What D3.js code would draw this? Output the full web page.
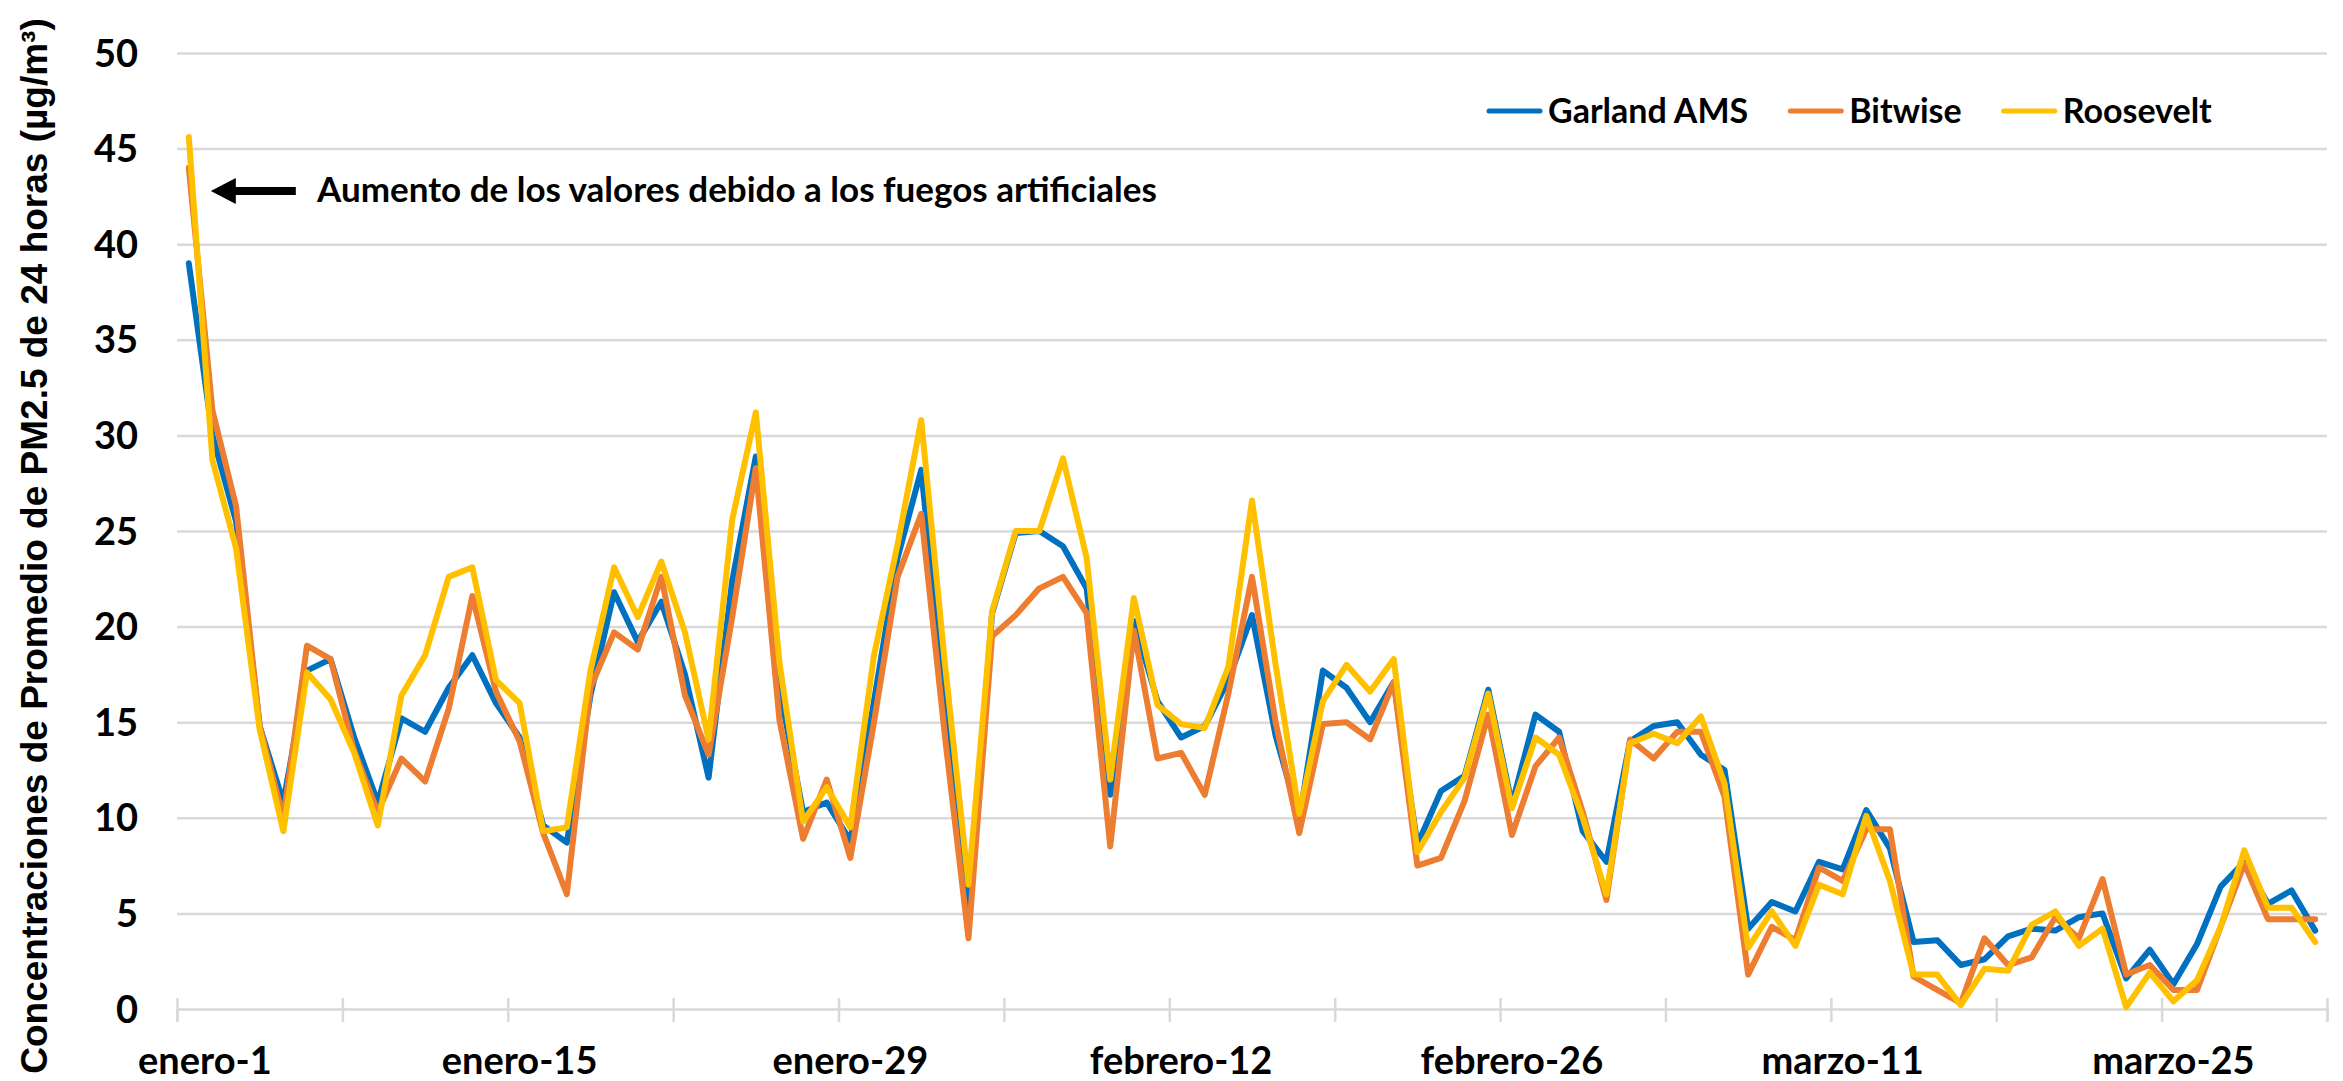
<!DOCTYPE html>
<html>
<head>
<meta charset="utf-8">
<script src="https://cdn.jsdelivr.net/npm/d3@7"></script>
<style>
    body { margin: 0; background: #ffffff; }
    svg { display: block; }
    text { font-family: Lato, 'Open Sans', sans-serif; font-weight: 700; fill: #000; }
</style>
</head>
<body>
<div id="chart"></div>
<script>
// daily 24h PM2.5 averages, 1 Jan .. 31 Mar 2020
const garland = [
    39.0, 30.0, 25.5, 14.8, 10.8, 17.7, 18.3, 14.2, 10.8, 15.2,
    14.5, 16.8, 18.5, 16.0, 14.2, 9.6, 8.7, 16.4, 21.8, 19.2,
    21.3, 17.5, 12.1, 22.4, 28.9, 16.8, 10.3, 10.8, 8.8, 16.1,
    23.6, 28.2, 16.0, 5.0, 20.7, 24.9, 25.0, 24.2, 22.0, 11.2,
    20.3, 16.1, 14.2, 14.8, 17.2, 20.6, 14.3, 9.9, 17.7, 16.8,
    15.0, 17.1, 8.6, 11.4, 12.2, 16.7, 10.7, 15.4, 14.5, 9.3,
    7.7, 14.0, 14.8, 15.0, 13.3, 12.5, 4.2, 5.6, 5.1, 7.7,
    7.3, 10.4, 8.4, 3.5, 3.6, 2.3, 2.6, 3.8, 4.2, 4.1,
    4.8, 5.0, 1.6, 3.1, 1.3, 3.4, 6.4, 7.7, 5.5, 6.2,
    4.1
];
const bitwise = [
    44.0, 31.3, 26.3, 14.8, 10.0, 19.0, 18.3, 13.5, 10.3, 13.1,
    11.9, 15.7, 21.6, 16.6, 14.0, 9.2, 6.0, 16.8, 19.7, 18.8,
    22.6, 16.4, 13.3, 20.5, 28.3, 15.1, 8.9, 12.0, 7.9, 15.0,
    22.6, 25.9, 14.3, 3.7, 19.5, 20.6, 22.0, 22.6, 20.7, 8.5,
    19.8, 13.1, 13.4, 11.2, 16.5, 22.6, 15.0, 9.2, 14.9, 15.0,
    14.1, 17.1, 7.5, 7.9, 10.9, 15.4, 9.1, 12.7, 14.2, 10.3,
    5.7, 14.1, 13.1, 14.5, 14.5, 11.1, 1.8, 4.3, 3.6, 7.4,
    6.7, 9.4, 9.4, 1.7, 1.0, 0.3, 3.7, 2.3, 2.7, 4.8,
    3.7, 6.8, 1.8, 2.3, 1.0, 1.0, 4.3, 7.6, 4.7, 4.7,
    4.7
];
const roosevelt = [
    45.6, 28.7, 24.1, 14.6, 9.3, 17.6, 16.2, 13.4, 9.6, 16.4,
    18.5, 22.6, 23.1, 17.2, 16.0, 9.3, 9.5, 17.7, 23.1, 20.5,
    23.4, 19.7, 14.1, 25.6, 31.2, 18.1, 9.8, 11.6, 9.5, 18.5,
    24.3, 30.8, 18.1, 6.5, 20.8, 25.0, 25.0, 28.8, 23.6, 12.0,
    21.5, 15.9, 14.9, 14.7, 17.9, 26.6, 18.0, 10.2, 16.1, 18.0,
    16.6, 18.3, 8.2, 10.3, 12.1, 16.5, 10.5, 14.2, 13.3, 10.0,
    6.0, 13.9, 14.4, 13.9, 15.3, 11.8, 3.2, 5.1, 3.3, 6.5,
    6.0, 10.1, 6.7, 1.8, 1.8, 0.2, 2.1, 2.0, 4.4, 5.1,
    3.3, 4.2, 0.1, 1.9, 0.4, 1.5, 4.3, 8.3, 5.3, 5.3,
    3.5
];

const seriesNames = ['Garland AMS', 'Bitwise', 'Roosevelt'];
const seriesColors = ['#0070c0', '#ed7d31', '#ffc000'];
const yTicks = [0, 5, 10, 15, 20, 25, 30, 35, 40, 45, 50];
const xLabels = ['enero-1', 'enero-15', 'enero-29', 'febrero-12', 'febrero-26', 'marzo-11', 'marzo-25'];
const yTitle = 'Concentraciones de Promedio de PM2.5 de 24 horas (µg/m³)';
const note = 'Aumento de los valores debido a los fuegos artificiales';

const width = 2343;
const height = 1081;
const margin = { top: 53, right: 16, bottom: 72, left: 177 };

const startDate = new Date(2020, 0, 1);
const endDate = d3.timeDay.offset(startDate, garland.length);
const dates = garland.map((_, i) => d3.timeDay.offset(startDate, i));

const series = [garland, bitwise, roosevelt].map((vals, k) => ({
    name: seriesNames[k],
    color: seriesColors[k],
    values: vals.map((v, i) => ({ date: dates[i], value: v }))
}));

const svg = d3.select('#chart')
    .append('svg')
    .attr('width', width)
    .attr('height', height);

const x = d3.scaleTime()
    .domain([startDate, endDate])
    .range([margin.left, width - margin.right]);

const y = d3.scaleLinear()
    .domain([0, 50])
    .range([height - margin.bottom, margin.top]);

// excel-style date axis: each day sits in the middle of its own slot
const mid = d => x(d3.timeHour.offset(d, 12));

// gridlines
svg.append('g')
    .attr('transform', `translate(${margin.left}, 0)`)
    .call(d3.axisLeft(y)
        .tickValues(yTicks.filter(t => t > 0))
        .tickSize(-(width - margin.left - margin.right))
        .tickFormat(''))
    .call(g => g.select('.domain').remove())
    .call(g => g.selectAll('line')
        .attr('stroke', '#d9d9d9')
        .attr('stroke-width', 2.5));

// x axis line + weekly tick marks
const weekTicks = d3.timeDay.range(startDate, d3.timeDay.offset(endDate, 1), 7);

svg.append('g')
    .attr('transform', `translate(0, ${y(0)})`)
    .call(d3.axisBottom(x)
        .tickValues(weekTicks)
        .tickSizeOuter(0)
        .tickSize(13)
        .tickFormat(''))
    .call(g => g.select('.domain')
        .attr('stroke', '#d9d9d9')
        .attr('stroke-width', 2.5))
    .call(g => g.selectAll('.tick line')
        .attr('y1', -11)
        .attr('stroke', '#d9d9d9')
        .attr('stroke-width', 2.5));

// y tick labels
const yLabelRight = 138;

svg.append('g')
    .selectAll('text')
    .data(yTicks)
    .enter()
    .append('text')
    .attr('x', yLabelRight)
    .attr('y', d => y(d))
    .attr('dy', '0.36em')
    .attr('text-anchor', 'end')
    .style('font-size', '38px')
    .text(d => d);

// x tick labels, every two weeks; first one is nudged so it clears the y labels
svg.append('g')
    .selectAll('text')
    .data(xLabels)
    .enter()
    .append('text')
    .attr('y', 1074)
    .attr('text-anchor', 'middle')
    .style('font-size', '38px')
    .text(d => d)
    .attr('x', function(d, i) {
        const cx = mid(d3.timeDay.offset(startDate, i * 14));
        const half = this.getComputedTextLength() / 2;
        return Math.max(cx, yLabelRight + half);
    });

// y title
svg.append('text')
    .attr('transform', `translate(47, ${(y(50) + y(0)) / 2 + 15}) rotate(-90)`)
    .attr('text-anchor', 'middle')
    .style('font-family', "'Liberation Sans', Arial, sans-serif")
    .style('font-size', '37px')
    .text(yTitle);

// lines
const line = d3.line()
    .x(d => mid(d.date))
    .y(d => y(d.value));

svg.append('g')
    .selectAll('path')
    .data(series)
    .enter()
    .append('path')
    .attr('fill', 'none')
    .attr('stroke', d => d.color)
    .attr('stroke-width', 6)
    .attr('stroke-linejoin', 'round')
    .attr('stroke-linecap', 'round')
    .attr('d', d => line(d.values));

// legend
const legend = svg.append('g')
    .attr('transform', 'translate(1487, 111)');

let lx = 0;
series.forEach(s => {
    const item = legend.append('g')
        .attr('transform', `translate(${lx}, 0)`);
    item.append('line')
        .attr('x1', 2)
        .attr('x2', 53)
        .attr('stroke', s.color)
        .attr('stroke-width', 5)
        .attr('stroke-linecap', 'round');
    const label = item.append('text')
        .attr('x', 61)
        .attr('dy', '0.36em')
        .style('font-size', '34px')
        .text(s.name);
    lx += 61 + label.node().getComputedTextLength() + 40;
});

// fireworks note with arrow pointing at the 1 Jan values
const arrowY = 191;
const arrowTip = mid(startDate) + 22;

svg.append('line')
    .attr('x1', arrowTip + 20)
    .attr('x2', arrowTip + 85)
    .attr('y1', arrowY)
    .attr('y2', arrowY)
    .attr('stroke', '#000')
    .attr('stroke-width', 8);

svg.append('path')
    .attr('d', d3.line()([
        [arrowTip, arrowY],
        [arrowTip + 25, arrowY - 13],
        [arrowTip + 25, arrowY + 13]
    ]) + 'Z')
    .attr('fill', '#000');

svg.append('text')
    .attr('x', 317)
    .attr('y', 202)
    .style('font-size', '35px')
    .text(note);
</script>
</body>
</html>
